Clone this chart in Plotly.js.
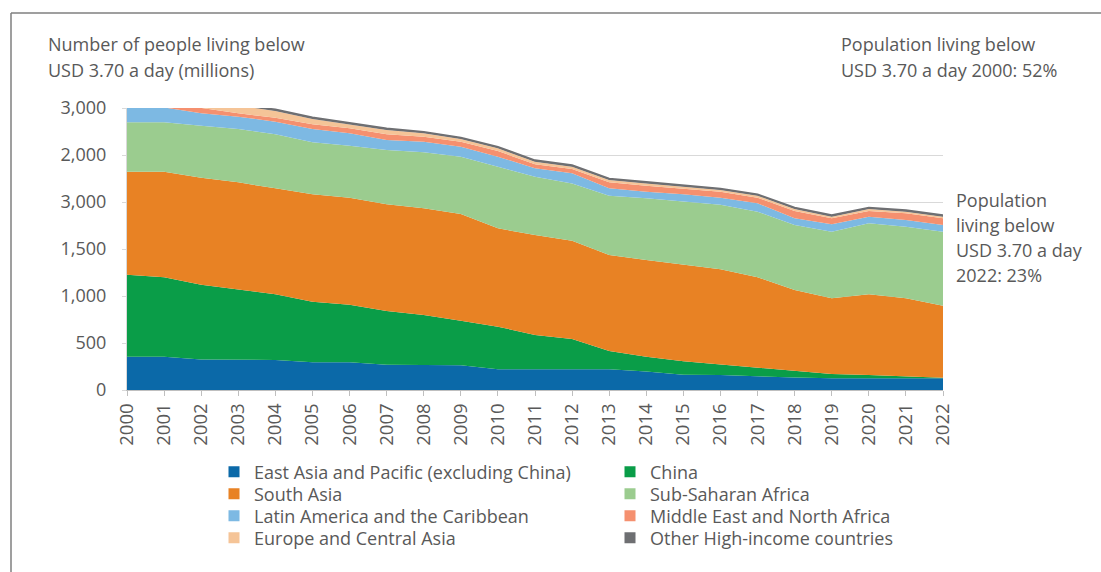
<!DOCTYPE html>
<html>
<head>
<meta charset="utf-8">
<script src="https://cdn.plot.ly/plotly-3.0.1.min.js"></script>
<style>
  html, body { margin: 0; padding: 0; background: #ffffff; }
  #chart { width: 1101px; height: 572px; }
</style>
</head>
<body>
<div id="chart"></div>
<script>
// ---- Data (millions of people living below USD 3.70 a day) ----
const years = [2000, 2001, 2002, 2003, 2004, 2005, 2006, 2007, 2008, 2009, 2010,
               2011, 2012, 2013, 2014, 2015, 2016, 2017, 2018, 2019, 2020, 2021, 2022];

const eastAsiaPacific = [355, 354, 325, 322, 320, 296, 294, 268, 266, 262, 222,
                         222, 222, 222, 197, 162, 160, 144, 133, 126, 128, 126, 124];
const china = [872, 845, 795, 749, 698, 643, 614, 572, 532, 475, 452,
               363, 321, 193, 157, 143, 113, 93, 76, 44, 32, 16, 7];
const southAsia = [1095, 1123, 1139, 1138, 1127, 1143, 1138, 1137, 1135, 1135, 1046,
                   1064, 1045, 1021, 1029, 1025, 1011, 962, 855, 805, 858, 833, 766];
const subSaharanAfrica = [526, 526, 553, 568, 575, 553, 553, 576, 595, 610, 656,
                          620, 610, 631, 656, 673, 686, 698, 691, 709, 755, 762, 787];
const latinAmerica = [160, 158, 131, 131, 134, 142, 132, 107, 113, 106, 106,
                      89, 107, 78, 71, 79, 76, 89, 71, 78, 71, 71, 71];
const middleEastNorthAfrica = [45, 45, 58, 35, 43, 49, 53, 60, 54, 53, 60,
                               43, 46, 64, 63, 56, 64, 60, 78, 64, 60, 71, 71];
const europeCentralAsia = [95, 90, 85, 80, 70, 57, 42, 46, 36, 29, 29,
                           28, 25, 25, 25, 21, 18, 21, 22, 18, 22, 18, 18];
const otherHighIncome = [18, 18, 18, 17, 17, 17, 16, 16, 16, 16, 15,
                         15, 15, 15, 15, 15, 15, 15, 15, 15, 15, 15, 15];

const seriesNames = [
  "East Asia and Pacific (excluding China)", "China", "South Asia", "Sub-Saharan Africa",
  "Latin America and the Caribbean", "Middle East and North Africa",
  "Europe and Central Asia", "Other High-income countries"
];
const seriesValues = [eastAsiaPacific, china, southAsia, subSaharanAfrica,
                      latinAmerica, middleEastNorthAfrica, europeCentralAsia, otherHighIncome];
const seriesColors = ["#0B69A8", "#0A9D48", "#E88224", "#9BCC8F",
                      "#7DB9E3", "#F5906F", "#F5C497", "#6E6F72"];

const yTickVals = [0, 500, 1000, 1500, 2000, 2500, 3000];
const yTickText = ["0", "500", "1,000", "1,500", "3,000", "2,000", "3,000"];

const titleLines = ["Number of people living below", "USD 3.70 a day (millions)"];
const topRightLines = ["Population living below", "USD 3.70 a day 2000: 52%"];
const endLines = ["Population", "living below", "USD 3.70 a day", "2022: 23%"];

// ---- Traces ----
const traces = [];
seriesNames.forEach((name, i) => {
  const isTop = i === seriesNames.length - 1;
  traces.push({
    type: "scatter",
    x: years,
    y: seriesValues[i],
    name: name,
    stackgroup: "one",
    mode: "lines",
    line: { width: isTop ? 1.8 : 0, color: seriesColors[i] },
    fillcolor: seriesColors[i],
    showlegend: false,
    hoverinfo: "skip"
  });
});
// legend entries (square swatches): one legend per entry, laid out in 2 columns x 4 rows
const legendIds = seriesNames.map((_, i) => i === 0 ? "legend" : "legend" + (i + 1));
seriesNames.forEach((name, i) => {
  traces.push({
    type: "scatter",
    x: [null], y: [null],
    name: name,
    mode: "markers",
    marker: { symbol: "square", size: 11, color: seriesColors[i] },
    legend: legendIds[i],
    hoverinfo: "skip"
  });
});

const textColor = "#595959";
const fontFam = "'Open Sans', sans-serif";
const fs = 18;

// pixel -> paper helpers (plot area: x 127..943, y 108..390)
const px = v => (v - 127) / 816;
const py = v => (390 - v) / 282;

const layout = {
  width: 1101,
  height: 572,
  margin: { l: 127, r: 158, t: 108, b: 182, pad: 0 },
  paper_bgcolor: "#ffffff",
  plot_bgcolor: "#ffffff",
  font: { family: fontFam, color: textColor, size: fs },
  showlegend: true,
  xaxis: {
    range: [2000, 2022],
    tickvals: years,
    ticktext: years.map(String),
    tickangle: -90,
    ticks: "outside",
    ticklen: 5,
    tickcolor: "#bfbfbf",
    showline: true,
    linecolor: "#bfbfbf",
    linewidth: 1,
    showgrid: false,
    zeroline: false,
    tickfont: { family: fontFam, size: 18.5, color: textColor },
    fixedrange: true
  },
  yaxis: {
    range: [0, 3000],
    tickvals: yTickVals,
    ticktext: yTickText,
    ticks: "outside",
    ticklen: 4,
    tickcolor: "#d9d9d9",
    showline: true,
    linecolor: "#d9d9d9",
    showgrid: true,
    gridcolor: "#d9d9d9",
    gridwidth: 1,
    zeroline: false,
    ticklabelstandoff: 12,
    tickfont: { family: fontFam, size: fs, color: textColor },
    fixedrange: true
  },
  annotations: [],
  shapes: [
    { type: "line", xref: "paper", yref: "paper", layer: "above",
      x0: px(11), x1: px(1110), y0: py(13), y1: py(13),
      line: { color: "#7f7f7f", width: 1.5 } },
    { type: "line", xref: "paper", yref: "paper", layer: "above",
      x0: px(11), x1: px(11), y0: py(13), y1: py(580),
      line: { color: "#7f7f7f", width: 1.5 } }
  ]
};

legendIds.forEach((id, i) => {
  const col = i % 2, row = Math.floor(i / 2);
  layout[id] = {
    orientation: "v",
    x: px(col === 0 ? 214 : 610), xanchor: "left",
    y: py(472 + row * 22), yanchor: "middle",
    traceorder: "normal",
    itemwidth: 30,
    font: { family: fontFam, size: fs, color: textColor },
    bgcolor: "rgba(0,0,0,0)"
  };
});

function addLines(lines, xPix, yStart, step) {
  lines.forEach((t, k) => {
    layout.annotations.push({
      xref: "paper", yref: "paper",
      x: px(xPix), y: py(yStart + k * step),
      xanchor: "left", yanchor: "middle", align: "left",
      showarrow: false, text: t,
      font: { family: fontFam, size: fs, color: textColor }
    });
  });
}
addLines(titleLines, 46, 44, 26);
addLines(topRightLines, 839, 44, 26);
addLines(endLines, 954, 200, 25);

Plotly.newPlot("chart", traces, layout, { displayModeBar: false, staticPlot: true });
</script>
</body>
</html>
